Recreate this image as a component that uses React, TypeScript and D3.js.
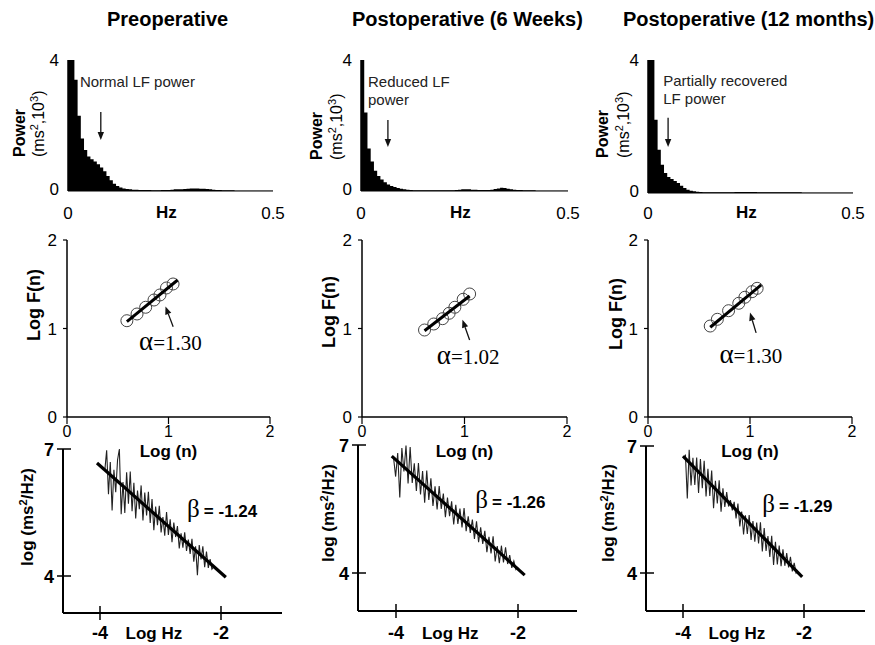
import React from "react";
import * as d3 from "d3";

// ---------------- DATA ----------------
const panelTitles = ["Preoperative", "Postoperative (6 Weeks)", "Postoperative (12 months)"];

// Top row: power spectra (ms^2 x10^3), bins of 1/128 Hz from 0 to 0.5 Hz
const hzTicks = [0, 0.5];
const powerTicks = [0, 4];
const binHz = 1 / 128;
const powerPre = [
  4.0, 4.0, 3.4, 2.3, 1.6, 1.25, 1.05, 0.97, 0.9, 0.82, 0.72, 0.6, 0.46, 0.33, 0.22, 0.15,
  0.11, 0.08, 0.06, 0.05, 0.04, 0.04, 0.03, 0.03, 0.03, 0.03, 0.02, 0.02, 0.02, 0.03, 0.03, 0.03,
  0.04, 0.05, 0.05, 0.05, 0.06, 0.07, 0.08, 0.08, 0.08, 0.07, 0.07, 0.06, 0.05, 0.04, 0.03, 0.03,
  0.02, 0.02, 0.02, 0.02, 0.01, 0.01, 0.01, 0.01, 0.01, 0.01, 0.01, 0.01, 0.01, 0.01, 0.01, 0.01,
];
const powerPost6w = [
  4.0, 2.4, 1.3, 0.9, 0.62, 0.46, 0.35, 0.27, 0.2, 0.15, 0.12, 0.09, 0.07, 0.05, 0.04, 0.03,
  0.02, 0.02, 0.02, 0.02, 0.02, 0.02, 0.02, 0.02, 0.02, 0.02, 0.02, 0.02, 0.02, 0.03, 0.04, 0.05,
  0.05, 0.05, 0.04, 0.04, 0.03, 0.03, 0.03, 0.03, 0.04, 0.06, 0.08, 0.1, 0.09, 0.07, 0.05, 0.04,
  0.03, 0.03, 0.02, 0.02, 0.02, 0.02, 0.01, 0.01, 0.01, 0.01, 0.01, 0.01, 0.01, 0.01, 0.01, 0.01,
];
const powerPost12m = [
  4.0, 4.0, 2.2, 1.3, 0.85, 0.6, 0.48, 0.42, 0.36, 0.3, 0.22, 0.15, 0.1, 0.07, 0.05, 0.04,
  0.03, 0.02, 0.02, 0.02, 0.02, 0.02, 0.02, 0.02, 0.02, 0.02, 0.02, 0.03, 0.03, 0.03, 0.03, 0.03,
  0.03, 0.03, 0.02, 0.02, 0.02, 0.02, 0.02, 0.02, 0.02, 0.02, 0.02, 0.02, 0.02, 0.02, 0.02, 0.02,
  0.01, 0.01, 0.01, 0.01, 0.01, 0.01, 0.01, 0.01, 0.01, 0.01, 0.01, 0.01, 0.01, 0.01, 0.01, 0.01,
];
const powerSeries = [powerPre, powerPost6w, powerPost12m];
const lfNotes = [["Normal LF power"], ["Reduced LF", "power"], ["Partially recovered", "LF power"]];
const lfNoteHz = [0.029, 0.017, 0.037];
const lfNotePower = [3.18, 3.18, 3.22];
const lfArrowHz = [0.08, 0.065, 0.049];
const lfArrowFrom = [2.41, 2.17, 2.26];
const lfArrowTo = [1.56, 1.34, 1.38];

// Middle row: DFA  Log F(n) vs Log(n)
const logNTicks = [0, 1, 2];
const logFTicks = [0, 1, 2];
const dfaLogN = [
  [0.59, 0.69, 0.775, 0.857, 0.916, 0.98, 1.045],
  [0.61, 0.7, 0.786, 0.85, 0.906, 0.987, 1.05],
  [0.61, 0.68, 0.79, 0.89, 0.95, 1.02, 1.07],
];
const dfaLogF = [
  [1.088, 1.164, 1.24, 1.322, 1.379, 1.458, 1.503],
  [0.983, 1.051, 1.111, 1.172, 1.24, 1.33, 1.39],
  [1.028, 1.104, 1.201, 1.285, 1.353, 1.416, 1.454],
];
const dfaFitN = [[0.59, 1.09], [0.61, 1.05], [0.61, 1.11]];
const dfaFitF = [[1.077, 1.548], [0.975, 1.367], [1.014, 1.492]];
const alphaValues = ["1.30", "1.02", "1.30"];
const alphaAt = [[0.71, 0.76], [0.73, 0.6], [0.7, 0.61]];
const alphaArrowFrom = [[1.046, 1.02], [1.05, 0.87], [1.06, 0.95]];
const alphaArrowTo = [[0.97, 1.25], [0.98, 1.1], [1.0, 1.18]];

// Bottom row: log power spectrum vs log frequency
const logHzTicks = [-4, -2];
const logPowTicks = [4, 7];
const specRangeHz = [[-3.92, -2.12], [-4.04, -2.0], [-3.96, -2.1]];
const specPre = [
  6.5, 6.97, 5.93, 6.69, 5.55, 6.51, 5.98, 6.74, 7.0, 5.46,
  6.22, 5.49, 6.45, 5.71, 6.47, 5.53, 6.2, 5.36, 6.02, 5.58,
  6.14, 5.31, 5.97, 5.43, 5.99, 5.25, 5.82, 5.08, 5.64, 5.2,
  5.66, 5.03, 5.39, 4.95, 5.51, 4.97, 5.34, 4.8, 5.26, 4.92,
  5.18, 4.65, 5.01, 4.67, 5.03, 4.59, 4.86, 4.52, 4.88, 4.34,
  4.7, 4.02, 4.73, 4.39, 4.7, 4.21, 4.58, 4.19, 4.4, 4.16, 4.22,
];
const specPost6w = [
  6.7, 6.26, 6.81, 5.77, 6.93, 6.38, 6.99, 6.1, 6.95, 6.11,
  6.57, 5.92, 6.58, 5.84, 6.39, 5.65, 6.4, 5.71, 6.22, 5.57,
  6.03, 5.49, 6.04, 5.5, 5.86, 5.31, 5.77, 5.33, 5.68, 5.14,
  5.6, 5.15, 5.51, 5.07, 5.52, 4.98, 5.33, 4.94, 5.25, 4.8,
  5.21, 4.72, 5.07, 4.68, 4.99, 4.49, 4.85, 4.46, 4.86, 4.27,
  4.63, 4.23, 4.64, 4.25, 4.6, 4.21, 4.42, 4.12, 4.28, 4.08, 4.14,
];
const specPost12m = [
  6.8, 5.76, 6.91, 6.07, 6.72, 6.08, 6.73, 5.89, 6.69, 6.0,
  6.65, 5.81, 6.46, 5.82, 6.42, 5.53, 6.18, 5.64, 6.19, 5.45,
  6.0, 5.56, 5.91, 5.57, 5.72, 5.48, 5.68, 5.29, 5.64, 5.1,
  5.45, 4.91, 5.36, 4.92, 5.37, 4.78, 5.23, 4.74, 5.19, 4.7,
  5.2, 4.51, 5.06, 4.52, 4.87, 4.38, 4.88, 4.19, 4.74, 4.2,
  4.65, 4.16, 4.56, 4.17, 4.47, 4.13, 4.38, 4.04, 4.24, 4.0, 4.05,
];
const specSeries = [specPre, specPost6w, specPost12m];
const specFitHz = [[-4.05, -1.92], [-4.07, -1.89], [-4.0, -2.03]];
const specFitPow = [[6.67, 3.97], [6.74, 3.95], [6.76, 3.91]];
const betaValues = ["-1.24", "-1.26", "-1.29"];
const betaAt = [[-2.56, 5.39], [-2.7, 5.52], [-2.69, 5.44]];

// ---------------- LAYOUT ----------------
const SANS = "'Liberation Sans', Arial, Helvetica, sans-serif";
const SERIF = "'Liberation Serif', 'Times New Roman', serif";
const titleX = [107, 352, 623];

const topGeom = [
  { left: 68, right: 273, top: 60, base: 191, powX: 25, unitX: 44, labY: 157 },
  { left: 361, right: 568, top: 60, base: 191, powX: 322, unitX: 342, labY: 160 },
  { left: 648, right: 853, top: 60, base: 193, powX: 608, unitX: 629, labY: 158 },
];
const midGeom = [
  { left: 67, right: 270, top: 240, base: 417, labX: 40, labY: 305 },
  { left: 362, right: 567, top: 240, base: 417, labX: 335, labY: 312 },
  { left: 648, right: 852, top: 240, base: 417, labX: 622, labY: 314 },
];
const botGeom = [
  { axisL: 63, axisR: 282, xm4: 100, xm2: 221, y7: 449, y4: 576, axisB: 613, labX: 33, labY: 517 },
  { axisL: 358, axisR: 577, xm4: 396, xm2: 518, y7: 445, y4: 573, axisB: 611, labX: 334, labY: 513 },
  { axisL: 646, axisR: 865, xm4: 683, xm2: 804, y7: 446, y4: 573, axisB: 611, labX: 614, labY: 513 },
];

function Arrow({ x1, y1, x2, y2, len = 8, half = 3.2, w = 1.3 }: any) {
  const a = Math.atan2(y2 - y1, x2 - x1);
  const bx = x2 - len * Math.cos(a);
  const by = y2 - len * Math.sin(a);
  const px = -Math.sin(a) * half;
  const py = Math.cos(a) * half;
  return (
    <g>
      <line x1={x1} y1={y1} x2={bx} y2={by} stroke="#111" strokeWidth={w} />
      <path d={`M${x2},${y2}L${bx + px},${by + py}L${bx - px},${by - py}Z`} fill="#111" />
    </g>
  );
}

function TopPanel({ i }: { i: number }) {
  const g = topGeom[i];
  const x = d3.scaleLinear().domain([0, 0.5]).range([g.left, g.right]);
  const y = d3.scaleLinear().domain([0, 4]).range([g.base, g.top]);
  const vals = powerSeries[i];
  const pts: [number, number][] = vals.map((v, k) => [k * binHz, v] as [number, number]);
  pts.push([vals.length * binHz, vals[vals.length - 1]]);
  const area = d3
    .area<[number, number]>()
    .curve(d3.curveStepAfter)
    .x((d) => x(d[0]))
    .y0(y(0))
    .y1((d) => y(d[1]));
  const notes = lfNotes[i];
  return (
    <g>
      <path d={area(pts) || ""} fill="#000" />
      <line x1={g.left} y1={y(4)} x2={g.left} y2={y(0)} stroke="#000" strokeWidth={1.5} />
      <line x1={g.left} y1={y(0)} x2={g.right} y2={y(0)} stroke="#000" strokeWidth={1.2} />
      {powerTicks.map((t) => (
        <text key={t} x={g.left - 9} y={y(t) + (t === 0 ? 4 : 6)} textAnchor="end" fontSize={17}>
          {t}
        </text>
      ))}
      {hzTicks.map((t) => (
        <text key={t} x={x(t)} y={219} textAnchor="middle" fontSize={17}>
          {t}
        </text>
      ))}
      <text x={x(0.24)} y={218} textAnchor="middle" fontSize={17} fontWeight="bold">
        Hz
      </text>
      <text transform={`translate(${g.powX},${g.labY}) rotate(-90)`} fontSize={16} fontWeight="bold">
        Power
      </text>
      <text transform={`translate(${g.unitX},${g.labY}) rotate(-90)`} fontSize={16}>
        (ms<tspan dy={-6} fontSize={11}>2</tspan>
        <tspan dy={6}>,10</tspan>
        <tspan dy={-6} fontSize={11}>3</tspan>
        <tspan dy={6}>)</tspan>
      </text>
      {notes.map((s, k) => (
        <text key={k} x={x(lfNoteHz[i])} y={y(lfNotePower[i]) + k * 18} fontSize={15} fill="#222">
          {s}
        </text>
      ))}
      <Arrow x1={x(lfArrowHz[i])} y1={y(lfArrowFrom[i])} x2={x(lfArrowHz[i])} y2={y(lfArrowTo[i])} />
    </g>
  );
}

function MidPanel({ i }: { i: number }) {
  const g = midGeom[i];
  const x = d3.scaleLinear().domain([0, 2]).range([g.left, g.right]);
  const y = d3.scaleLinear().domain([0, 2]).range([g.base, g.top]);
  const ns = dfaLogN[i];
  const fs = dfaLogF[i];
  const fitLine = d3.line<number>().x((_, k) => x(dfaFitN[i][k])).y((_, k) => y(dfaFitF[i][k]));
  return (
    <g>
      <line x1={g.left} y1={y(2)} x2={g.left} y2={y(0)} stroke="#000" strokeWidth={1.5} />
      <line x1={g.left} y1={y(0)} x2={x(2)} y2={y(0)} stroke="#000" strokeWidth={1.5} />
      {logFTicks.map((t) => (
        <g key={t}>
          <line x1={g.left - 4} y1={y(t)} x2={g.left} y2={y(t)} stroke="#000" strokeWidth={1.2} />
          <text x={g.left - 10} y={y(t) + 6} textAnchor="end" fontSize={17}>
            {t}
          </text>
        </g>
      ))}
      {logNTicks.map((t) => (
        <g key={t}>
          <line x1={x(t)} y1={y(0)} x2={x(t)} y2={y(0) + 7} stroke="#000" strokeWidth={1.2} />
          <text x={x(t)} y={437} textAnchor="middle" fontSize={16}>
            {t}
          </text>
        </g>
      ))}
      <text x={x(1)} y={457} textAnchor="middle" fontSize={17} fontWeight="bold">
        Log (n)
      </text>
      <text
        transform={`translate(${g.labX},${g.labY}) rotate(-90)`}
        textAnchor="middle"
        fontSize={18}
        fontWeight="bold"
      >
        Log F(n)
      </text>
      {ns.map((n, k) => (
        <circle key={k} cx={x(n)} cy={y(fs[k])} r={6} fill="none" stroke="#444" strokeWidth={1} />
      ))}
      <path d={fitLine([0, 1]) || ""} stroke="#000" strokeWidth={3} fill="none" />
      <Arrow
        x1={x(alphaArrowFrom[i][0])}
        y1={y(alphaArrowFrom[i][1])}
        x2={x(alphaArrowTo[i][0])}
        y2={y(alphaArrowTo[i][1])}
      />
      <text x={x(alphaAt[i][0])} y={y(alphaAt[i][1])} fontFamily={SERIF} fontSize={21}>
        <tspan fontSize={27}>α</tspan>={alphaValues[i]}
      </text>
    </g>
  );
}

function BotPanel({ i }: { i: number }) {
  const g = botGeom[i];
  const x = d3.scaleLinear().domain([-4, -2]).range([g.xm4, g.xm2]);
  const y = d3.scaleLinear().domain([4, 7]).range([g.y4, g.y7]);
  const vals = specSeries[i];
  const idx = d3.scaleLinear().domain([0, vals.length - 1]).range(specRangeHz[i]);
  const line = d3
    .line<number>()
    .x((_, k) => x(idx(k)))
    .y((d) => y(d));
  const fit = d3.line<number>().x((_, k) => x(specFitHz[i][k])).y((_, k) => y(specFitPow[i][k]));
  return (
    <g>
      <line x1={g.axisL} y1={y(7)} x2={g.axisL} y2={g.axisB} stroke="#000" strokeWidth={2} />
      <line x1={g.axisL} y1={g.axisB} x2={g.axisR} y2={g.axisB} stroke="#000" strokeWidth={2} />
      {logPowTicks.map((t) => (
        <g key={t}>
          <line x1={g.axisL - 6} y1={y(t)} x2={g.axisL + 8} y2={y(t)} stroke="#000" strokeWidth={1.5} />
          <text x={g.axisL - 9} y={y(t) + 6.5} textAnchor="end" fontSize={18} fontWeight="bold">
            {t}
          </text>
        </g>
      ))}
      {logHzTicks.map((t) => (
        <g key={t}>
          <line x1={x(t)} y1={g.axisB - 7} x2={x(t)} y2={g.axisB + 7} stroke="#000" strokeWidth={1.5} />
          <text x={x(t)} y={639} textAnchor="middle" fontSize={18} fontWeight="bold">
            {t}
          </text>
        </g>
      ))}
      <text x={x(-3.11)} y={639} textAnchor="middle" fontSize={17} fontWeight="bold">
        Log Hz
      </text>
      <text
        transform={`translate(${g.labX},${g.labY}) rotate(-90)`}
        textAnchor="middle"
        fontSize={17}
        fontWeight="bold"
      >
        log (ms<tspan dy={-6} fontSize={11}>2</tspan>
        <tspan dy={6}>/Hz)</tspan>
      </text>
      <path d={line(vals) || ""} stroke="#222" strokeWidth={1.1} fill="none" />
      <path d={fit([0, 1]) || ""} stroke="#000" strokeWidth={3.2} fill="none" />
      <text x={x(betaAt[i][0])} y={y(betaAt[i][1])} fontSize={17} fontWeight="bold">
        <tspan fontFamily={SERIF} fontWeight="normal" fontSize={25}>
          β
        </tspan>
        <tspan dx={4}>= {betaValues[i]}</tspan>
      </text>
    </g>
  );
}

export default function App() {
  return (
    <svg
      width={875}
      height={645}
      style={{ position: "absolute", left: 0, top: 0, background: "#fff" }}
      fontFamily={SANS}
    >
      <rect width={875} height={645} fill="#fff" />
      {panelTitles.map((t, i) => (
        <text key={t} x={titleX[i]} y={26} fontSize={20} fontWeight="bold">
          {t}
        </text>
      ))}
      {[0, 1, 2].map((i) => (
        <TopPanel key={"t" + i} i={i} />
      ))}
      {[0, 1, 2].map((i) => (
        <MidPanel key={"m" + i} i={i} />
      ))}
      {[0, 1, 2].map((i) => (
        <BotPanel key={"b" + i} i={i} />
      ))}
    </svg>
  );
}
